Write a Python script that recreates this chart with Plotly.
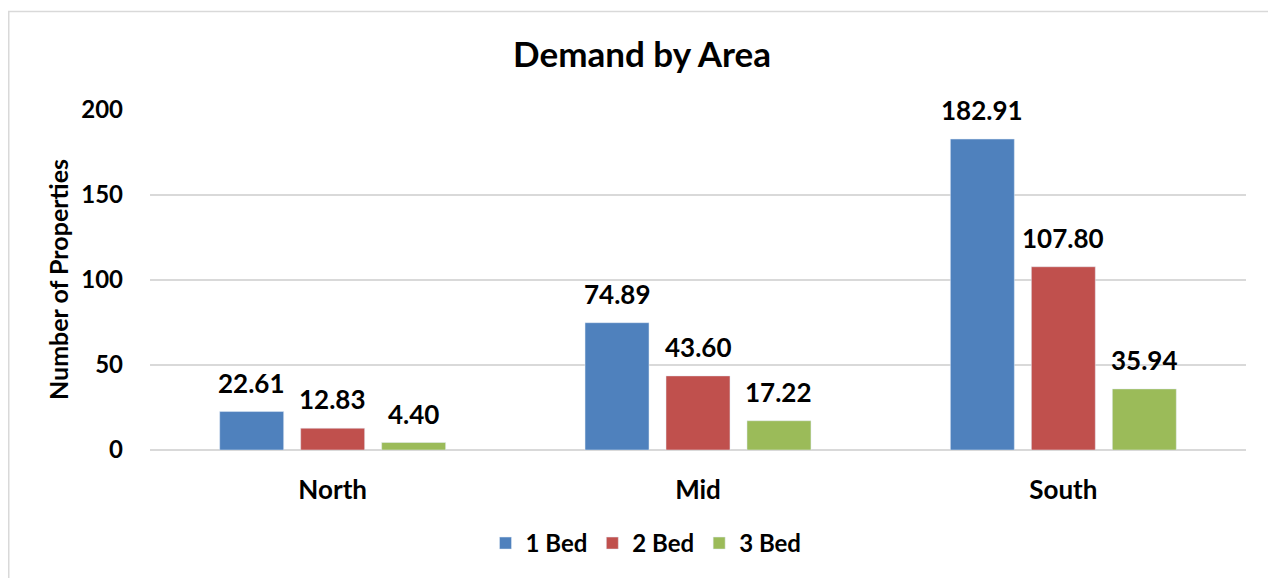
import plotly.graph_objects as go

areas = ["North", "Mid", "South"]
bed1 = [22.61, 74.89, 182.91]
bed2 = [12.83, 43.60, 107.80]
bed3 = [4.40, 17.22, 35.94]
series_names = ["1 Bed", "2 Bed", "3 Bed"]
colors = ["#4F81BD", "#C0504D", "#9BBB59"]

FONT = "Lato"

# figure sits at (8, 8) in the page because of the body margin
W, H = 1268, 570
L, R, T, B = 142, 30, 102, 126
pw, ph = W - L - R, H - T - B
BARGAP = 0.335
slot = pw / len(areas) * (1 - BARGAP) / 3

fig = go.Figure()
labels = []
for i, (name, vals, col) in enumerate(zip(series_names, [bed1, bed2, bed3], colors)):
    fig.add_trace(go.Bar(x=areas, y=vals, name=name, marker_color=col))
    for a, v in zip(areas, vals):
        labels.append(dict(x=a, y=v, text=f"{v:.2f}", xref="x", yref="y",
                           xshift=(i - 1) * slot, yshift=29, showarrow=False,
                           xanchor="center", yanchor="middle",
                           font=dict(size=26)))

fig.update_layout(
    width=W, height=H,
    margin=dict(l=L, r=R, t=T, b=B),
    paper_bgcolor="white", plot_bgcolor="white",
    barmode="group", bargap=BARGAP, bargroupgap=0.21,
    font=dict(family=FONT, color="black", weight="bold"),
    title=dict(text="Demand by Area", x=0.5, xanchor="center",
               y=1 - 47 / H, yanchor="middle", font=dict(size=35, weight="bold")),
    showlegend=True,
    legend=dict(orientation="h", x=(638 - L) / pw, xanchor="center",
                y=(H - B - 538) / ph, yanchor="middle",
                font=dict(size=24), itemwidth=30, traceorder="normal"),
    shapes=[dict(type="rect", xref="paper", yref="paper",
                 x0=(0.75 - L) / pw, x1=(1267 - L) / pw,
                 y0=(H - B - 600) / ph, y1=(H - B - 3) / ph,
                 line=dict(color="#d9d9d9", width=1.5), layer="below")],
    annotations=labels + [dict(text="Number of Properties", textangle=-90,
                               xref="paper", yref="paper", x=(50 - L) / pw, y=0.5,
                               xanchor="center", yanchor="middle", showarrow=False,
                               font=dict(size=25))],
)
fig.update_yaxes(range=[0, 200], dtick=50, showgrid=True, gridcolor="#d9d9d9",
                 gridwidth=1.5, zeroline=True, zerolinecolor="#d9d9d9",
                 zerolinewidth=1.5, showline=False, ticks="",
                 ticklabelstandoff=26, tickfont=dict(size=24))
fig.update_xaxes(showline=False, ticks="", ticklabelstandoff=22,
                 tickfont=dict(size=26))

fig.write_html("out.html")
